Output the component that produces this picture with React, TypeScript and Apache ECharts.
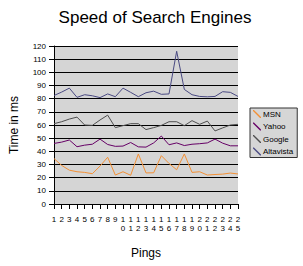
import React, { useEffect, useRef } from "react";
import * as echarts from "echarts";

const pings = Array.from({ length: 25 }, (_, i) => String(i + 1));
const msn = [34.5, 29.3, 25.7, 24.5, 24, 23, 28.8, 35.5, 22, 24.5, 21.8, 38, 23.6, 23.7, 36.7, 30.8, 26, 38, 24, 24.5, 22, 22.4, 22.7, 23.5, 22.8];
const yahoo = [46, 47, 48.6, 43.5, 44.7, 45.4, 49.3, 45.2, 43.8, 44, 46.7, 43.4, 43.2, 46.4, 51.6, 45, 46.4, 44.4, 45.4, 45.8, 46.4, 49.3, 46.2, 44.2, 44.2];
const google = [61, 62.5, 64.5, 66, 60, 59.7, 63.8, 67.5, 58, 59.5, 61, 61, 56.5, 58, 59.7, 62.5, 62.5, 59.5, 63.3, 60.5, 63, 55.5, 57.8, 60, 60.5];
const altavista = [82.4, 85, 88, 81, 83, 82.2, 80.8, 83.6, 81.5, 88, 84.8, 81.5, 84.5, 85.7, 83.3, 83.6, 116, 87, 83, 81.7, 81.4, 81.7, 85.3, 84.8, 81.7];

const seriesNames = ["MSN", "Yahoo", "Google", "Altavista"];
const seriesColors = ["#f39035", "#660066", "#4e4e4e", "#4a4a82"];
const seriesData = [msn, yahoo, google, altavista];

const FONT = "Liberation Sans, Arial, sans-serif";
const ICON = "path://M0,0L1.2,0L10,8.8L10,10L8.8,10L0,1.2Z";

export default function App() {
  const ref = useRef<HTMLDivElement>(null);
  useEffect(() => {
    if (!ref.current) return;
    const chart = echarts.init(ref.current, null, { renderer: "svg" });
    chart.setOption({
      animation: false,
      backgroundColor: "#ffffff",
      title: {
        text: "Speed of Search Engines",
        left: 150,
        textAlign: "center",
        top: 4,
        textStyle: { fontFamily: FONT, fontSize: 17, fontWeight: "normal", color: "#000" },
      },
      legend: {
        orient: "vertical",
        left: 250,
        top: 108,
        padding: [2, 4, 2, 3],
        itemGap: 4.5,
        itemWidth: 8,
        itemHeight: 8,
        backgroundColor: "#d6d6d6",
        borderColor: "#333",
        borderWidth: 1,
        borderRadius: 0,
        data: seriesNames.map((n) => ({ name: n, icon: ICON })),
        textStyle: { fontFamily: FONT, fontSize: 8, color: "#000", padding: [0, 0, 0, -3] },
      },
      grid: {
        left: 53,
        top: 46,
        width: 185,
        height: 158,
        show: true,
        backgroundColor: "#d5d5d5",
        borderWidth: 0,
      },
      xAxis: {
        type: "category",
        data: pings,
        boundaryGap: false,
        name: "Pings",
        nameLocation: "middle",
        nameGap: 43,
        nameTextStyle: { fontFamily: FONT, fontSize: 12, color: "#000" },
        axisLine: { lineStyle: { color: "#000", width: 1 } },
        axisTick: { show: true, interval: 0, length: 5, lineStyle: { color: "#000" } },
        axisLabel: {
          interval: 0,
          margin: 11,
          fontFamily: FONT,
          fontSize: 8,
          lineHeight: 9,
          color: "#000",
          formatter: (v: string) => v.split("").join("\n"),
        },
        splitLine: { show: false },
      },
      yAxis: {
        type: "value",
        min: 0,
        max: 120,
        interval: 10,
        name: "Time in ms",
        nameLocation: "middle",
        nameGap: 34,
        nameTextStyle: { fontFamily: FONT, fontSize: 12, color: "#000" },
        axisLine: { show: true, lineStyle: { color: "#000", width: 1 } },
        axisTick: { show: true, length: 5, lineStyle: { color: "#000" } },
        axisLabel: { margin: 8, fontFamily: FONT, fontSize: 8, color: "#000" },
        splitLine: { show: true, lineStyle: { color: "#000", width: 1 } },
      },
      series: seriesNames.map((name, i) => ({
        name,
        type: "line",
        data: seriesData[i],
        symbol: "none",
        lineStyle: { color: seriesColors[i], width: 1 },
        itemStyle: { color: seriesColors[i] },
      })),
    });
    return () => chart.dispose();
  }, []);
  return (
    <div
      ref={ref}
      style={{ position: "fixed", left: 0, top: 0, width: 303, height: 266, background: "#fff" }}
    />
  );
}
